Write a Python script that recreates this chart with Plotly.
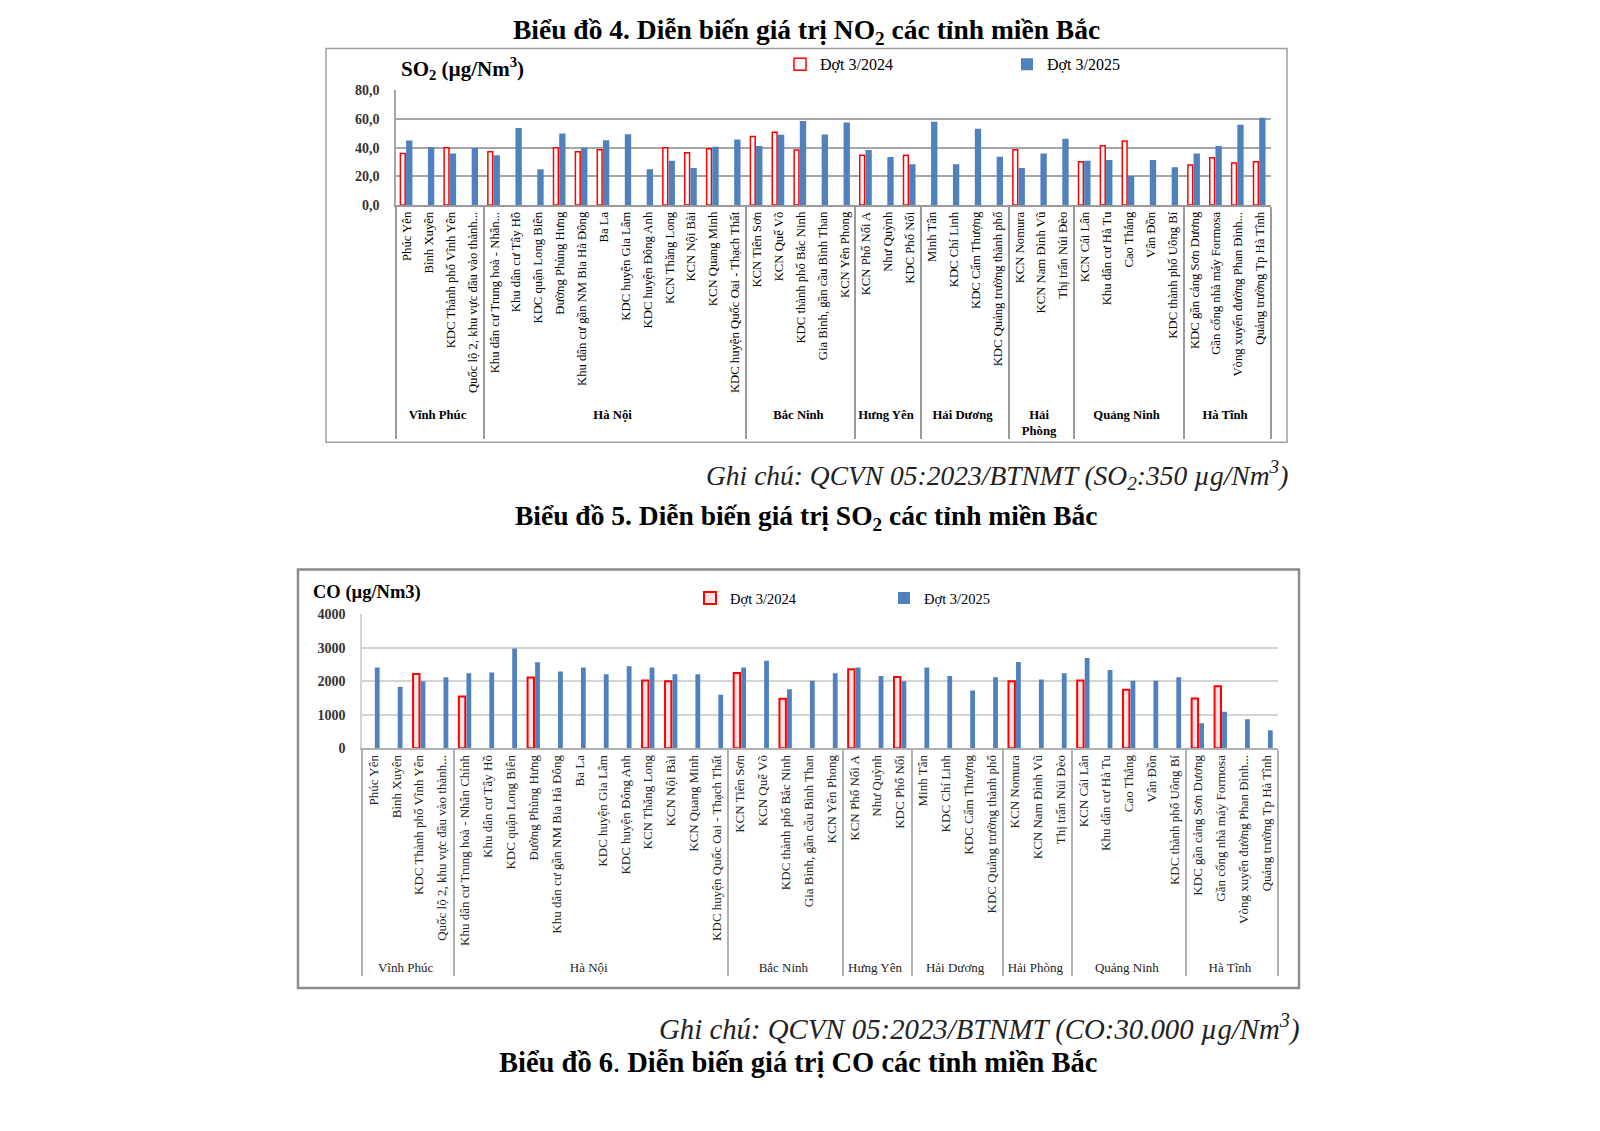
import plotly.graph_objects as go

# ---------------- data ----------------
group_names_so2 = ["Vĩnh Phúc", "Hà Nội", "Bắc Ninh", "Hưng Yên", "Hải Dương", "Hải<br>Phòng", "Quảng Ninh", "Hà Tĩnh"]
group_names_co = ["Vĩnh Phúc", "Hà Nội", "Bắc Ninh", "Hưng Yên", "Hải Dương", "Hải Phòng", "Quảng Ninh", "Hà Tĩnh"]
group_sizes = [4, 12, 5, 3, 4, 3, 5, 4]

sites_so2 = [
    "Phúc Yên", "Bình Xuyên", "KDC Thành phố Vĩnh Yên", "Quốc lộ 2, khu vực đầu vào thành...",
    "Khu dân cư Trung hoà - Nhân...", "Khu dân cư Tây Hồ", "KDC quận Long Biên", "Đường Phùng Hưng",
    "Khu dân cư gần NM Bia Hà Đông", "Ba La", "KDC huyện Gia Lâm", "KDC huyện Đông Anh",
    "KCN Thăng Long", "KCN Nội Bài", "KCN Quang Minh", "KDC huyện Quốc Oai - Thạch Thất",
    "KCN Tiên Sơn", "KCN Quế Võ", "KDC thành phố Bắc Ninh", "Gia Bình, gần cầu Bình Than",
    "KCN Yên Phong", "KCN Phố Nối A", "Như Quỳnh", "KDC Phố Nối",
    "Minh Tân", "KDC Chí Linh", "KDC Cẩm Thượng", "KDC Quảng trường thành phố",
    "KCN Nomura", "KCN Nam Đình Vũ", "Thị trấn Núi Đèo",
    "KCN Cái Lân", "Khu dân cư Hà Tu", "Cao Thắng", "Vân Đồn", "KDC thành phố Uông Bí",
    "KDC gần cảng Sơn Dương", "Gần cổng nhà máy Formosa", "Vòng xuyến đường Phan Đình...", "Quảng trường Tp Hà Tĩnh",
]
sites_co = [
    "Phúc Yên", "Bình Xuyên", "KDC Thành phố Vĩnh Yên", "Quốc lộ 2, khu vực đầu vào thành...",
    "Khu dân cư Trung hoà - Nhân Chính", "Khu dân cư Tây Hồ", "KDC quận Long Biên", "Đường Phùng Hưng",
    "Khu dân cư gần NM Bia Hà Đông", "Ba La", "KDC huyện Gia Lâm", "KDC huyện Đông Anh",
    "KCN Thăng Long", "KCN Nội Bài", "KCN Quang Minh", "KDC huyện Quốc Oai - Thạch Thất",
    "KCN Tiên Sơn", "KCN Quế Võ", "KDC thành phố Bắc Ninh", "Gia Bình, gần cầu Bình Than",
    "KCN Yên Phong", "KCN Phố Nối A", "Như Quỳnh", "KDC Phố Nối",
    "Minh Tân", "KDC Chí Linh", "KDC Cẩm Thượng", "KDC Quảng trường thành phố",
    "KCN Nomura", "KCN Nam Đình Vũ", "Thị trấn Núi Đèo",
    "KCN Cái Lân", "Khu dân cư Hà Tu", "Cao Thắng", "Vân Đồn", "KDC thành phố Uông Bí",
    "KDC gần cảng Sơn Dương", "Gần cổng nhà máy Formosa", "Vòng xuyến đường Phan Đình...", "Quảng trường Tp Hà Tĩnh",
]

so2_2024 = [36.0, None, 40.0, None, 37.2, None, None, 40.0, 37.2, 38.6, None, None,
            40.0, 36.5, 39.3, None, 47.9, 50.9, 38.4, None, None, 34.7, None, 34.7,
            None, None, None, None, 38.6, None, None, 30.2, 41.4, 44.7, None, None,
            27.9, 33.0, 29.3, 30.2]
so2_2025 = [45.1, 40.5, 36.0, 39.8, 34.7, 53.7, 24.9, 50.0, 40.0, 45.3, 49.5, 24.9,
            30.9, 25.8, 40.7, 45.8, 41.2, 49.1, 58.6, 49.3, 57.7, 38.4, 33.5, 28.4,
            58.1, 28.4, 53.3, 33.7, 25.8, 36.0, 46.3, 30.9, 31.4, 20.2, 31.4, 26.3,
            36.0, 41.2, 56.0, 61.0]

co_2024 = [None, None, 2218, None, 1545, None, None, 2109, None, None, None, None,
           2020, 2000, None, None, 2248, None, 1475, None, None, 2356, None, 2129,
           None, None, None, None, 2000, None, None, 2020, None, 1743, None, None,
           1485, 1851, None, None]
co_2025 = [2406, 1832, 2000, 2119, 2238, 2257, 2980, 2564, 2287, 2406, 2208, 2446,
           2406, 2208, 2208, 1594, 2406, 2614, 1762, 2010, 2238, 2406, 2158, 2000,
           2406, 2158, 1723, 2119, 2574, 2050, 2238, 2693, 2337, 2010, 2010, 2119,
           743, 1089, 861, 535]

series_names = ["Đợt 3/2024", "Đợt 3/2025"]

# ---------------- build ----------------
W, H = 1600, 1131
SERIF = "Liberation Serif, Times New Roman, serif"
BLUE = "#4f81bd"
RED = "#ff0000"


def px(x):
    return x / W


def py(y):
    return 1 - y / H


def expand(names, sizes, fmt):
    out = []
    for n, s in zip(names, sizes):
        out += [fmt % n] * s
    return out


x_so2 = [expand(group_names_so2, group_sizes, "<b>%s</b>"), sites_so2]
x_co = [expand(group_names_co, group_sizes, "%s"), sites_co]

fig = go.Figure()

fig.add_trace(go.Bar(x=x_so2, y=so2_2024, name=series_names[0], xaxis="x", yaxis="y",
                     width=0.22, offset=-0.3, legend="legend",
                     marker=dict(color="white", line=dict(color=RED, width=1.5))))
fig.add_trace(go.Bar(x=x_so2, y=so2_2025, name=series_names[1], xaxis="x", yaxis="y",
                     width=0.29, offset=-0.04, legend="legend",
                     marker=dict(color=BLUE, line=dict(width=0))))

fig.add_trace(go.Bar(x=x_co, y=co_2024, name=series_names[0], xaxis="x2", yaxis="y2",
                     width=0.28, offset=-0.27, legend="legend2",
                     marker=dict(color="#ffe4e4", line=dict(color=RED, width=2))))
fig.add_trace(go.Bar(x=x_co, y=co_2025, name=series_names[1], xaxis="x2", yaxis="y2",
                     width=0.21, offset=0.06, legend="legend2",
                     marker=dict(color=BLUE, line=dict(width=0))))

common_x = dict(type="multicategory", tickangle=-90, showgrid=False, showline=True,
                showdividers=True, ticks="", fixedrange=True, automargin=False)

fig.update_layout(
    width=W, height=H,
    margin=dict(l=0, r=0, t=0, b=0),
    paper_bgcolor="white", plot_bgcolor="white",
    barmode="overlay",
    separators=",.",
    font=dict(family=SERIF, color="black"),
    xaxis=dict(common_x, domain=[px(388), px(1263)], anchor="y",
               tickfont=dict(family=SERIF, size=12.7, color="black"),
               linecolor="#9a9a9a", linewidth=1.5,
               dividercolor="#9a9a9a", dividerwidth=1.5),
    yaxis=dict(domain=[py(192.5), py(76.5)], anchor="x", range=[0, 80], dtick=20,
               tickformat=".1f", showgrid=True, gridcolor="#a6a6a6", gridwidth=1.5,
               showline=True, linecolor="#a6a6a6", linewidth=1.5, zeroline=False,
               ticks="", ticklabelstandoff=12, fixedrange=True,
               tickfont=dict(family=SERIF, size=14, color="#333333", weight="bold")),
    xaxis2=dict(common_x, domain=[px(354), px(1270)], anchor="y2",
                tickfont=dict(family=SERIF, size=13, color="#222222"),
                linecolor="#b0b0b0", linewidth=1.5,
                dividercolor="#b0b0b0", dividerwidth=1.5),
    yaxis2=dict(domain=[py(743), py(607.3)], anchor="x2", range=[0, 4000], dtick=1000,
                tickformat="d", showgrid=True, gridcolor="#d4d4d4", gridwidth=1.5,
                showline=True, linecolor="#d4d4d4", linewidth=1.5, zeroline=False,
                ticks="", ticklabelstandoff=12, fixedrange=True,
                tickfont=dict(family=SERIF, size=14, color="#333333", weight="bold")),
    legend=dict(orientation="h", x=px(772), y=py(50), xanchor="left", yanchor="middle",
                entrywidth=182, entrywidthmode="pixels", bgcolor="rgba(0,0,0,0)",
                font=dict(family=SERIF, size=16, color="black")),
    legend2=dict(orientation="h", x=px(682), y=py(591), xanchor="left", yanchor="middle",
                 entrywidth=149, entrywidthmode="pixels", bgcolor="rgba(0,0,0,0)",
                 font=dict(family=SERIF, size=14.5, color="black")),
)

shapes = [
    dict(type="rect", xref="paper", yref="paper", x0=px(318), x1=px(1279), y0=py(433), y1=py(34),
         line=dict(color="#a0a0a0", width=1.5), layer="below"),
    dict(type="rect", xref="paper", yref="paper", x0=px(290), x1=px(1291), y0=py(986), y1=py(562),
         line=dict(color="#8c8c8c", width=2.5), layer="below"),
]
fig.update_layout(shapes=shapes)

ann = [
    dict(text="<b>Biểu đồ 4. Diễn biến giá trị NO<sub>2</sub> các tỉnh miền Bắc</b>",
         x=px(798), y=py(17), xanchor="center", yanchor="middle", font=dict(size=27.5)),
    dict(text="<b>SO<sub>2</sub> (µg/Nm<sup>3</sup>)</b>",
         x=px(391), y=py(54), xanchor="left", yanchor="middle", font=dict(size=21)),
    dict(text="<i>Ghi chú: QCVN 05:2023/BTNMT (SO<sub>2</sub>:350 µg/Nm<sup>3</sup>)</i>",
         x=px(1282), y=py(466), xanchor="right", yanchor="middle", font=dict(size=27.5, color="#222")),
    dict(text="<b>Biểu đồ 5. Diễn biến giá trị SO<sub>2</sub> các tỉnh miền Bắc</b>",
         x=px(798), y=py(509), xanchor="center", yanchor="middle", font=dict(size=27.5)),
    dict(text="<b>CO (µg/Nm3)</b>",
         x=px(303), y=py(585), xanchor="left", yanchor="middle", font=dict(size=18.5)),
    dict(text="<i>Ghi chú: QCVN 05:2023/BTNMT (CO:30.000 µg/Nm<sup>3</sup>)</i>",
         x=px(1293), y=py(1026), xanchor="right", yanchor="middle", font=dict(size=28.8, color="#222")),
    dict(text="<b>Biểu đồ 6</b>. <b>Diễn biến giá trị CO các tỉnh miền Bắc</b>",
         x=px(790), y=py(1062), xanchor="center", yanchor="middle", font=dict(size=28.5)),
]
for a in ann:
    a.update(xref="paper", yref="paper", showarrow=False)
    a["font"] = dict(dict(family=SERIF, color="black"), **a["font"])
fig.update_layout(annotations=ann)

fig.write_html("out.html")
